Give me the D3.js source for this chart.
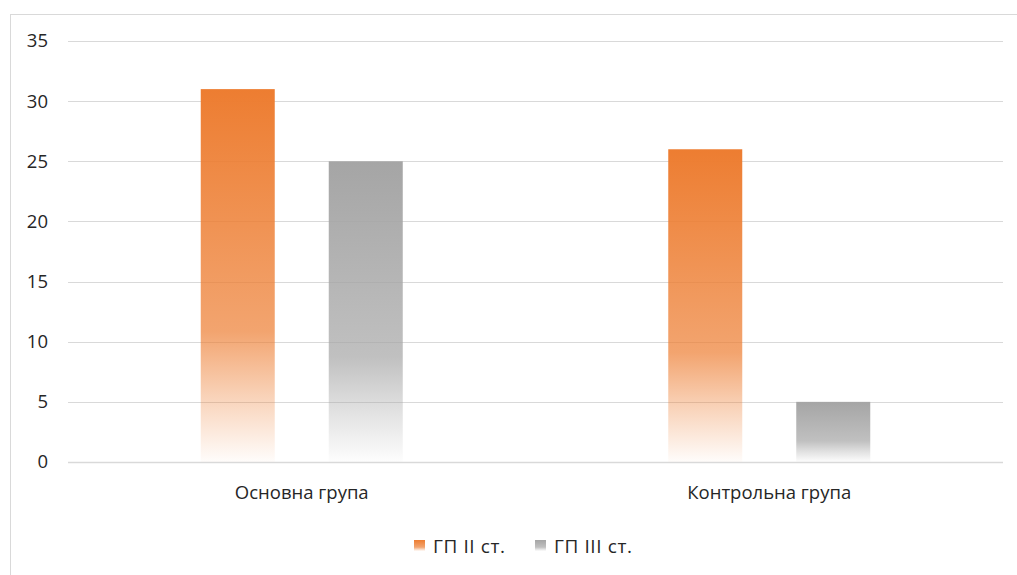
<!DOCTYPE html>
<html>
<head>
<meta charset="utf-8">
<script src="https://cdn.jsdelivr.net/npm/d3@7"></script>
<style>
  body { margin: 0; background: #fff; }
  text { font-family: "Open Sans", "Liberation Sans", sans-serif; fill: #262626; }
</style>
</head>
<body>
<script>
// Chart data
const categories = ["Основна група", "Контрольна група"];
const seriesNames = ["ГП II ст.", "ГП III ст."];
const seriesII = [31, 26];
const seriesIII = [25, 5];
const yTicks = [0, 5, 10, 15, 20, 25, 30, 35];

const width = 1017;
const height = 575;
const margin = {top: 41, right: 14, bottom: 113, left: 68};
const colors = ["#ED7D31", "#A5A5A5"];

const svg = d3.select('body')
  .append('svg')
  .attr('width', width)
  .attr('height', height);

// chart frame
svg.append('rect')
  .attr('x', 10.5).attr('y', 14.5)
  .attr('width', width - 10).attr('height', height - 10)
  .attr('fill', 'none')
  .attr('stroke', '#d9d9d9');

// gradients (full colour at top, fading to white at the bottom of each bar)
const defs = svg.append('defs');
colors.forEach((c, i) => {
  const g = defs.append('linearGradient')
    .attr('id', 'grad' + i)
    .attr('x1', 0).attr('y1', 0).attr('x2', 0).attr('y2', 1);
  g.append('stop').attr('offset', '0%').attr('stop-color', c).attr('stop-opacity', 1);
  g.append('stop').attr('offset', '65%').attr('stop-color', c).attr('stop-opacity', 0.7);
  g.append('stop').attr('offset', '82%').attr('stop-color', c).attr('stop-opacity', 0.35);
  g.append('stop').attr('offset', '100%').attr('stop-color', c).attr('stop-opacity', 0.02);
});

const plotW = width - margin.left - margin.right;
const plotH = height - margin.top - margin.bottom;

const x0 = d3.scaleBand()
  .domain(categories)
  .range([margin.left, margin.left + plotW]);

const x1 = d3.scaleBand()
  .domain(seriesNames)
  .range([0, 202])
  .paddingInner(54 / 128);

const y = d3.scaleLinear()
  .domain([0, 35])
  .range([margin.top + plotH, margin.top]);

// gridlines
svg.append('g')
  .selectAll('line')
  .data(yTicks)
  .join('line')
  .attr('x1', margin.left).attr('x2', margin.left + plotW)
  .attr('y1', d => Math.round(y(d)) + 0.5)
  .attr('y2', d => Math.round(y(d)) + 0.5)
  .attr('stroke', '#d9d9d9')
  .attr('stroke-width', d => d === 0 ? 1.5 : 1);

// y tick labels
svg.append('g')
  .selectAll('text')
  .data(yTicks)
  .join('text')
  .attr('x', 48)
  .attr('y', d => y(d))
  .attr('dy', '0.35em')
  .attr('text-anchor', 'end')
  .style('font-size', '18.5px')
  .text(d => d);

// bars
const rows = categories.map((c, i) => ({cat: c, values: [seriesII[i], seriesIII[i]]}));
const groups = svg.append('g')
  .selectAll('g')
  .data(rows)
  .join('g')
  .attr('transform', d => 'translate(' + (x0(d.cat) + (x0.bandwidth() - 202) / 2) + ',0)');

groups.selectAll('rect')
  .data(d => d.values.map((v, i) => ({name: seriesNames[i], value: v, i: i})))
  .join('rect')
  .attr('x', d => x1(d.name))
  .attr('y', d => y(d.value))
  .attr('width', x1.bandwidth())
  .attr('height', d => y(0) - y(d.value))
  .attr('fill', d => 'url(#grad' + d.i + ')');

// category labels
svg.append('g')
  .selectAll('text')
  .data(categories)
  .join('text')
  .attr('x', d => x0(d) + x0.bandwidth() / 2)
  .attr('y', 499)
  .attr('text-anchor', 'middle')
  .style('font-size', '18.5px')
  .text(d => d);

// legend
const legendX = [414, 535];
const legend = svg.append('g')
  .selectAll('g')
  .data(seriesNames)
  .join('g')
  .attr('transform', (d, i) => 'translate(' + legendX[i] + ',540)');

legend.append('rect')
  .attr('width', 11).attr('height', 11)
  .attr('fill', (d, i) => 'url(#grad' + i + ')');

legend.append('text')
  .attr('x', 19)
  .attr('y', 6)
  .attr('dy', '0.35em')
  .style('font-size', '19px')
  .style('letter-spacing', '0.6px')
  .text(d => d);
</script>
</body>
</html>
